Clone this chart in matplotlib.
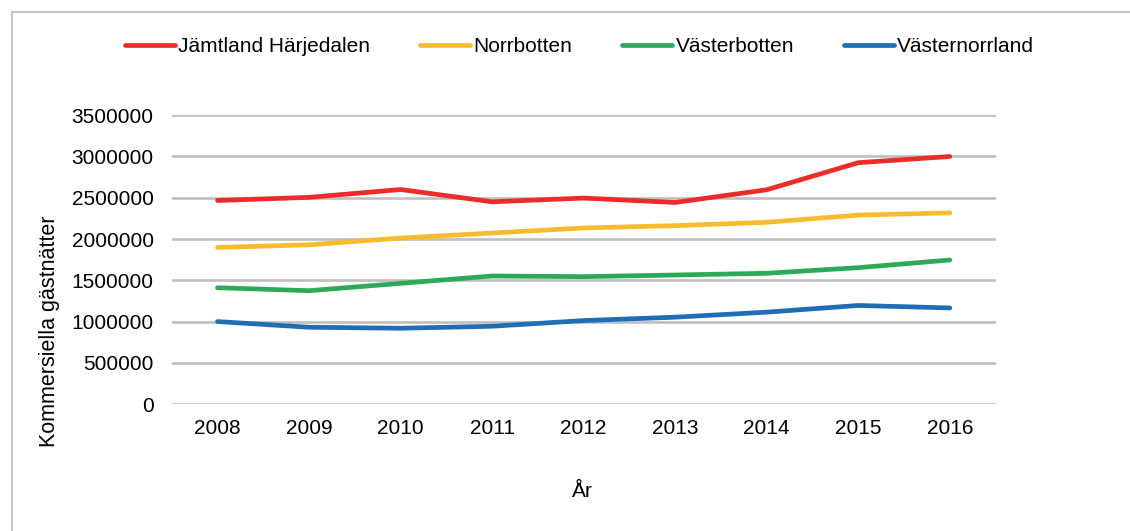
import matplotlib.pyplot as plt
from matplotlib.patches import Rectangle

plt.rcParams['font.family'] = ['Liberation Sans', 'DejaVu Sans']

# data
years = ['2008', '2009', '2010', '2011', '2012', '2013', '2014', '2015', '2016']
jamtland = [2467000, 2505000, 2600000, 2451000, 2496000, 2443000, 2597000, 2925000, 3000000]
norrbotten = [1898000, 1930000, 2012000, 2073000, 2134000, 2162000, 2203000, 2290000, 2317000]
vasterbotten = [1410000, 1374000, 1463000, 1552000, 1544000, 1564000, 1585000, 1653000, 1746000]
vasternorrland = [1000000, 931000, 919000, 943000, 1012000, 1053000, 1114000, 1195000, 1165000]

series = [('Jämtland Härjedalen', jamtland, '#EE2B2B'),
          ('Norrbotten', norrbotten, '#F6BC2E'),
          ('Västerbotten', vasterbotten, '#2DAA57'),
          ('Västernorrland', vasternorrland, '#1F6DB4')]

fig = plt.figure(figsize=(11.3, 5.31), dpi=100)
ax = fig.add_axes([0.152, 0.239, 0.729, 0.544])

x = range(len(years))
for name, vals, col in series:
    ax.plot(x, vals, color=col, lw=3.4, label=name, solid_capstyle='round')

ax.set_xlim(-0.5, len(years) - 0.5)
ax.set_ylim(0, 3500000)
ax.set_yticks(range(0, 3500001, 500000))
ax.set_yticklabels([str(v) for v in range(0, 3500001, 500000)])
ax.set_xticks(list(x))
ax.set_xticklabels(years)
ax.grid(axis='y', color='#bfbfbf', lw=1.9)
ax.set_axisbelow(True)
for s in ax.spines.values():
    s.set_visible(False)
ax.tick_params(length=0, labelsize=15, pad=11)
ax.tick_params(axis='y', pad=13)

# y label sits lower than the axes centre in the original
fig.text(50 / 1130, 1 - 331 / 531, 'Kommersiella gästnätter', fontsize=15.5,
         rotation=90, ha='center', va='center')
fig.text(0.515, 0.075, 'År', fontsize=15, ha='center', va='center')

fig.legend(loc='center', bbox_to_anchor=(0.513, 0.912), ncol=4, frameon=False,
           fontsize=15, handlelength=2.4, handletextpad=0.15, columnspacing=2.4)

# light frame around the chart
fig.patches.append(Rectangle((12 / 1130, -0.01), 1.2, 1 - 12 / 531 + 0.01,
                             transform=fig.transFigure, fill=False,
                             edgecolor='#c4c4c4', lw=1.5))

fig.savefig('out.png', dpi=100)
